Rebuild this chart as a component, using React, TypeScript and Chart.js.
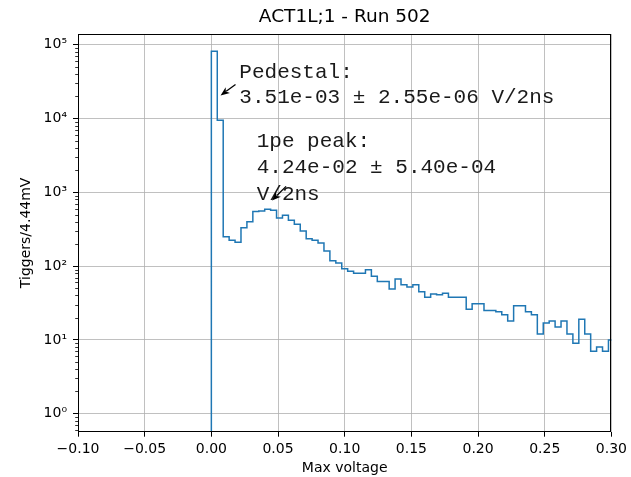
import React, { useEffect, useRef } from 'react';
import { Chart, registerables } from 'chart.js';

Chart.register(...registerables);

const TITLE = 'ACT1L;1 - Run 502';
const X_LABEL = 'Max voltage';
const Y_LABEL = 'Tiggers/4.44mV';

// histogram: 90 bins over 0..0.4 V (4.44 mV each); only the first 68 fall inside the view
const BIN_WIDTH = 0.4 / 90;
const COUNTS = [
  82000, 9500, 250, 225, 210, 330, 400, 550, 560, 590,
  570, 450, 490, 420, 370, 300, 235, 225, 205, 160,
  118, 110, 92, 85, 80, 80, 89, 73, 62, 62,
  49, 67, 56, 52, 56, 45, 38, 42, 41, 43,
  38, 38, 38, 26, 31, 31, 25, 25, 24, 22,
  18, 29, 29, 24, 22, 12, 17, 18, 15, 18,
  12, 9, 19, 12, 7, 8, 7, 10,
];
const HIST_BASE = 1e-3; // step histogram starts from 0 (below the log axis)

const X_RANGE = [-0.1, 0.3];
const Y_RANGE = [0.57, 1.4e5];
const X_TICKS = [-0.1, -0.05, 0, 0.05, 0.1, 0.15, 0.2, 0.25, 0.3];
const Y_TICKS = [1, 10, 100, 1000, 10000, 100000];

const PEDESTAL_LINES = ['Pedestal:', '3.51e-03 \u00b1 2.55e-06 V/2ns'];
const PEDESTAL_TEXT_AT = [0.021, 35000];
const PEDESTAL_ARROW_FROM = [0.0181, 29000];
const PEDESTAL_ARROW_TO = [0.0069, 20600];

const PEAK_LINES = ['1pe peak:', '4.24e-02 \u00b1 5.40e-04', 'V/2ns'];
const PEAK_TEXT_AT = [0.034, 4120];
const PEAK_ARROW_FROM = [0.056, 1206];
const PEAK_ARROW_TO = [0.0455, 774];

const SUP = '\u2070\u00b9\u00b2\u00b3\u2074\u2075\u2076\u2077\u2078\u2079';
function supNum(n: number): string {
  const s = String(Math.abs(n));
  let out = n < 0 ? '\u207b' : '';
  for (const ch of s) out += SUP[Number(ch)];
  return out;
}

const GRID = '#b0b0b0';
const LINE = '#1f77b4';
const FONT = "'DejaVu Sans', sans-serif";
const MONO = "'Liberation Mono', 'DejaVu Sans Mono', monospace";

const minorTicksPlugin = {
  id: 'minorTicks',
  afterDraw(chart: any) {
    const y = chart.scales.y;
    const ctx = chart.ctx;
    ctx.save();
    ctx.strokeStyle = '#000';
    ctx.lineWidth = 0.8;
    for (let d = -1; d <= 5; d++) {
      for (let m = 2; m <= 9; m++) {
        const v = m * Math.pow(10, d);
        if (v < y.min || v > y.max) continue;
        const py = Math.round(y.getPixelForValue(v)) + 0.5;
        ctx.beginPath();
        ctx.moveTo(chart.chartArea.left - 2.8, py);
        ctx.lineTo(chart.chartArea.left, py);
        ctx.stroke();
      }
    }
    ctx.restore();
  },
};

const framePlugin = {
  id: 'frame',
  afterDatasetsDraw(chart: any) {
    const { left, right, top, bottom } = chart.chartArea;
    const ctx = chart.ctx;
    ctx.save();
    ctx.strokeStyle = '#000';
    ctx.lineWidth = 1;
    const l = Math.round(left) + 0.5;
    const r = Math.round(right) - 0.5;
    const t = Math.round(top) + 0.5;
    const b = Math.round(bottom) - 0.5;
    ctx.strokeRect(l, t, r - l, b - t);
    ctx.restore();
  },
};

function drawArrow(ctx: CanvasRenderingContext2D, x1: number, y1: number, x2: number, y2: number) {
  const ang = Math.atan2(y2 - y1, x2 - x1);
  const headLen = 9;
  const headHalf = 3.6;
  const bx = x2 - headLen * Math.cos(ang);
  const by = y2 - headLen * Math.sin(ang);
  ctx.beginPath();
  ctx.moveTo(x1, y1);
  ctx.lineTo(bx + 2 * Math.cos(ang), by + 2 * Math.sin(ang));
  ctx.lineWidth = 1.3;
  ctx.strokeStyle = '#000';
  ctx.stroke();
  ctx.beginPath();
  ctx.moveTo(x2, y2);
  ctx.lineTo(bx - headHalf * Math.sin(ang), by + headHalf * Math.cos(ang));
  ctx.lineTo(bx + 2.5 * Math.cos(ang), by + 2.5 * Math.sin(ang));
  ctx.lineTo(bx + headHalf * Math.sin(ang), by - headHalf * Math.cos(ang));
  ctx.closePath();
  ctx.fillStyle = '#000';
  ctx.fill();
}

const annotationPlugin = {
  id: 'annotations',
  afterDraw(chart: any) {
    const xs = chart.scales.x;
    const ys = chart.scales.y;
    const ctx = chart.ctx;
    const px = (p: number[]) => [xs.getPixelForValue(p[0]), ys.getPixelForValue(p[1])];
    ctx.save();
    ctx.font = `21px ${MONO}`;
    ctx.fillStyle = '#1a1a1a';
    ctx.textAlign = 'left';
    ctx.textBaseline = 'alphabetic';
    const drawLines = (lines: string[], at: number[], step: number) => {
      const [x, y] = px(at);
      lines.forEach((s, i) => ctx.fillText(s, x, y + i * step));
    };
    drawLines(PEDESTAL_LINES, PEDESTAL_TEXT_AT, 25);
    drawLines(PEAK_LINES, PEAK_TEXT_AT, 26.5);
    const a1 = px(PEDESTAL_ARROW_FROM), b1 = px(PEDESTAL_ARROW_TO);
    drawArrow(ctx, a1[0], a1[1], b1[0], b1[1]);
    const a2 = px(PEAK_ARROW_FROM), b2 = px(PEAK_ARROW_TO);
    drawArrow(ctx, a2[0], a2[1], b2[0], b2[1]);
    ctx.restore();
  },
};

export default function App() {
  const ref = useRef<HTMLCanvasElement | null>(null);

  useEffect(() => {
    if (!ref.current) return;
    const points = [
      { x: 0, y: HIST_BASE },
      ...COUNTS.map((c, i) => ({ x: i * BIN_WIDTH, y: c })),
      { x: COUNTS.length * BIN_WIDTH, y: COUNTS[COUNTS.length - 1] },
    ];
    const chart = new Chart(ref.current, {
      type: 'line',
      data: {
        datasets: [
          {
            data: points,
            stepped: true,
            borderColor: LINE,
            borderWidth: 1.5,
            pointRadius: 0,
            fill: false,
            tension: 0,
            clip: 0,
          } as any,
        ],
      },
      options: {
        animation: false,
        responsive: false,
        devicePixelRatio: 1,
        events: [],
        layout: { padding: { left: 0, right: 18.7, top: 0, bottom: 0 } },
        plugins: {
          legend: { display: false },
          tooltip: { enabled: false },
          title: {
            display: true,
            text: TITLE,
            fullSize: false,
            color: '#000',
            font: { family: FONT, size: 18.5, weight: 'normal' },
            padding: { top: 6.4, bottom: 5.4 },
          },
        },
        scales: {
          x: {
            type: 'linear',
            min: X_RANGE[0],
            max: X_RANGE[1],
            afterBuildTicks: (scale: any) => {
              scale.ticks = X_TICKS.map((v) => ({ value: v }));
            },
            afterFit: (scale: any) => {
              scale.height = 45.3;
            },
            ticks: {
              autoSkip: false,
              maxRotation: 0,
              padding: 4,
              color: '#000',
              font: { family: FONT, size: 14 },
              callback: (v: any) => {
                const n = Number(v);
                const s = Math.abs(n) < 1e-9 ? '0.00' : n.toFixed(2);
                return s.replace('-', '\u2212');
              },
            },
            grid: {
              color: GRID,
              lineWidth: 0.8,
              drawTicks: true,
              tickLength: 5,
              tickColor: '#000',
              tickWidth: 1,
            },
            border: { display: false },
            title: {
              display: true,
              text: X_LABEL,
              color: '#000',
              font: { family: FONT, size: 14 },
              padding: { top: 0, bottom: 0 },
            },
          },
          y: {
            type: 'logarithmic',
            min: Y_RANGE[0],
            max: Y_RANGE[1],
            afterBuildTicks: (scale: any) => {
              scale.ticks = Y_TICKS.map((v) => ({ value: v }));
            },
            afterFit: (scale: any) => {
              scale.width = 78;
            },
            ticks: {
              autoSkip: false,
              padding: 6,
              color: '#000',
              font: { family: FONT, size: 14 },
              callback: (v: any) => '10' + supNum(Math.round(Math.log10(Number(v)))),
            },
            grid: {
              color: GRID,
              lineWidth: 0.8,
              drawTicks: true,
              tickLength: 5,
              tickColor: '#000',
              tickWidth: 1,
            },
            border: { display: false },
            title: {
              display: true,
              text: Y_LABEL,
              color: '#000',
              font: { family: FONT, size: 14 },
              padding: { top: 17.6, bottom: 0 },
            },
          },
        },
      },
      plugins: [minorTicksPlugin, framePlugin, annotationPlugin],
    } as any);
    return () => chart.destroy();
  }, []);

  return (
    <div style={{ position: 'fixed', left: 0, top: 0, width: 631, height: 477, background: '#fff' }}>
      <canvas ref={ref} width={631} height={477} />
    </div>
  );
}
